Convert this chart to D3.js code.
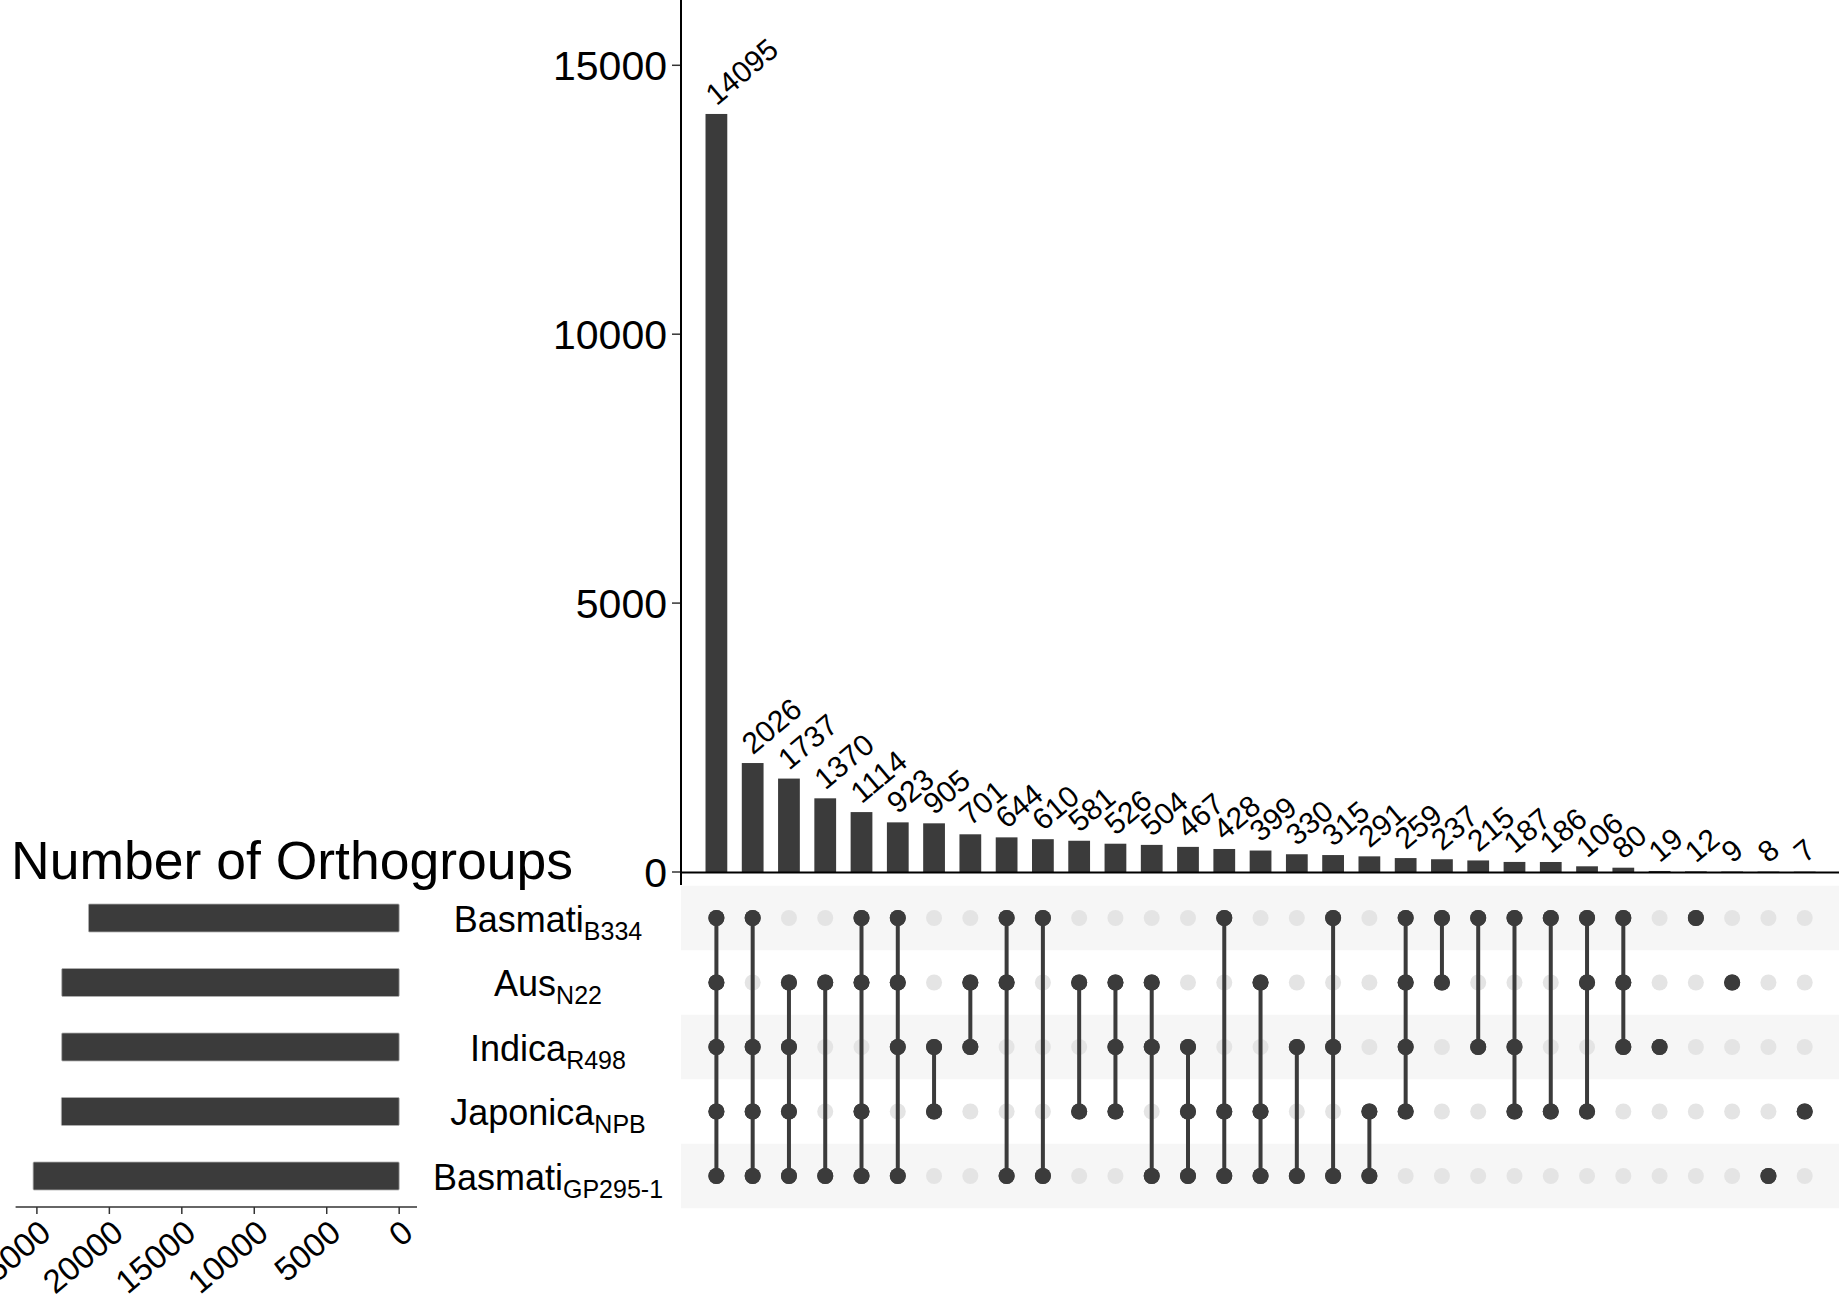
<!DOCTYPE html>
<html>
<head>
<meta charset="utf-8">
<script src="https://cdn.jsdelivr.net/npm/d3@7"></script>
<style>
  html, body { margin: 0; padding: 0; background: #fff; }
  svg { display: block; font-family: "Liberation Sans", Arial, Helvetica, sans-serif; }
</style>
</head>
<body>
<svg id="chart" width="1839" height="1304"></svg>
<script>
// Sets (row labels: name + subscript) and their total sizes
const setNames = ["Basmati", "Aus", "Indica", "Japonica", "Basmati"];
const setSubs = ["B334", "N22", "R498", "NPB", "GP295-1"];
const setSizes = [21437, 23285, 23289, 23314, 25261];

// Intersection sizes, in plotted order
const counts = [14095, 2026, 1737, 1370, 1114, 923, 905, 701, 644, 610, 581, 526, 504,
  467, 428, 399, 330, 315, 291, 259, 237, 215, 187, 186, 106, 80, 19, 12, 9, 8, 7];

// Sets (row indices) taking part in each intersection
const members = [
  [0,1,2,3,4], [0,2,3,4], [1,2,3,4], [1,4], [0,1,3,4], [0,1,2,4], [2,3], [1,2],
  [0,1,4], [0,4], [1,3], [1,2,3], [1,2,4], [2,3,4], [0,3,4], [1,3,4], [2,4],
  [0,2,4], [3,4], [0,1,2,3], [0,1], [0,2], [0,2,3], [0,3], [0,1,3], [0,1,2],
  [2], [0], [1], [4], [3]
];

// Axis ticks
const mainTicks = [0, 5000, 10000, 15000];
const sizeTicks = [0, 5000, 10000, 15000, 20000, 25000];

const dark = "#3b3b3b";
const labelAngle = -40;
const svg = d3.select("#chart");

// ---- scales ----
const cols = counts.map((d, i) => i);
const x = d3.scalePoint().domain(cols).range([716.4, 1804.7]);
const barW = x.step() * 0.6;
const y = d3.scaleLinear().domain([0, 16214]).range([872, 0]);
const rows = setNames.map((d, i) => i);
const ry = d3.scalePoint().domain(rows).range([918, 1176]);
const rowH = ry.step();
const sx = d3.scaleLinear().domain([-1230, 26470]).range([417, 15.6]);

// ---- matrix background stripes ----
svg.append("g").selectAll("rect")
  .data(rows.filter(i => i % 2 === 0))
  .join("rect")
  .attr("x", 681).attr("width", 1839 - 681)
  .attr("y", i => ry(i) - rowH / 2).attr("height", rowH)
  .attr("fill", "#f6f6f6");

// ---- intersection bars ----
svg.append("g").selectAll("rect")
  .data(counts)
  .join("rect")
  .attr("x", (d, i) => x(i) - barW / 2)
  .attr("width", barW)
  .attr("y", d => y(d))
  .attr("height", d => y(0) - y(d))
  .attr("fill", dark);

// value labels, rotated
svg.append("g").selectAll("text")
  .data(counts)
  .join("text")
  .attr("transform", (d, i) => `translate(${x(i)},${y(d) - 7.5}) rotate(${labelAngle})`)
  .attr("font-size", 30)
  .attr("fill", "#000")
  .text(d => d);

// y axis of intersection bars
const yAxis = svg.append("g");
yAxis.append("line")
  .attr("x1", 681).attr("x2", 681).attr("y1", 0).attr("y2", 885)
  .attr("stroke", "#000").attr("stroke-width", 2);
yAxis.selectAll("line.tick")
  .data(mainTicks)
  .join("line").attr("class", "tick")
  .attr("x1", 672).attr("x2", 680)
  .attr("y1", d => y(d)).attr("y2", d => y(d))
  .attr("stroke", "#333").attr("stroke-width", 1.5);
yAxis.selectAll("text")
  .data(mainTicks)
  .join("text")
  .attr("x", 667).attr("y", d => y(d))
  .attr("dy", "0.36em")
  .attr("text-anchor", "end")
  .attr("font-size", 41)
  .attr("fill", "#000")
  .text(d => d);

// baseline
svg.append("line")
  .attr("x1", 681).attr("x2", 1839).attr("y1", 872.5).attr("y2", 872.5)
  .attr("stroke", "#000").attr("stroke-width", 2);

// ---- matrix dots and connectors ----
const matrix = svg.append("g");
cols.forEach(c => {
  rows.forEach(r => {
    matrix.append("circle")
      .attr("cx", x(c)).attr("cy", ry(r)).attr("r", 8)
      .attr("fill", members[c].includes(r) ? dark : "#e4e4e4");
  });
});
matrix.selectAll("line")
  .data(members.filter(m => m.length > 1).map(m => ({ m, c: members.indexOf(m) })))
  .join("line")
  .attr("x1", d => x(d.c)).attr("x2", d => x(d.c))
  .attr("y1", d => ry(d3.min(d.m))).attr("y2", d => ry(d3.max(d.m)))
  .attr("stroke", dark).attr("stroke-width", 4);
// redraw filled dots over the connectors
cols.forEach(c => {
  members[c].forEach(r => {
    matrix.append("circle")
      .attr("cx", x(c)).attr("cy", ry(r)).attr("r", 8).attr("fill", dark);
  });
});

// ---- set size bars ----
const barH = 28;
svg.append("g").selectAll("rect")
  .data(setSizes)
  .join("rect")
  .attr("x", d => sx(d))
  .attr("width", d => sx(0) - sx(d))
  .attr("y", (d, i) => ry(i) - barH / 2)
  .attr("height", barH)
  .attr("fill", dark)
  .attr("stroke", "#b0b0b0").attr("stroke-width", 0.8)
  .attr("rx", 1);

// set labels with subscripts
const lab = svg.append("g").selectAll("text")
  .data(rows)
  .join("text")
  .attr("x", 548).attr("y", i => ry(i) + 13.5)
  .attr("text-anchor", "middle")
  .attr("font-size", 36)
  .attr("fill", "#000");
lab.append("tspan").text(i => setNames[i]);
lab.append("tspan").attr("font-size", 25).attr("dy", 8).text(i => setSubs[i]);

// title of set size panel
svg.append("text")
  .attr("x", 11).attr("y", 879)
  .attr("font-size", 53.5)
  .attr("fill", "#000")
  .text("Number of Orthogroups");

// x axis of set size bars
const sAxis = svg.append("g");
sAxis.append("line")
  .attr("x1", 15.6).attr("x2", 417).attr("y1", 1207).attr("y2", 1207)
  .attr("stroke", "#333").attr("stroke-width", 1.5);
sAxis.selectAll("line.tick")
  .data(sizeTicks)
  .join("line").attr("class", "tick")
  .attr("x1", d => sx(d)).attr("x2", d => sx(d))
  .attr("y1", 1207).attr("y2", 1214)
  .attr("stroke", "#333").attr("stroke-width", 1.5);
sAxis.selectAll("text")
  .data(sizeTicks)
  .join("text")
  .attr("transform", d => `translate(${sx(d) + 16},${1236}) rotate(${labelAngle})`)
  .attr("text-anchor", "end")
  .attr("font-size", 33)
  .attr("fill", "#000")
  .text(d => d);
</script>
</body>
</html>
